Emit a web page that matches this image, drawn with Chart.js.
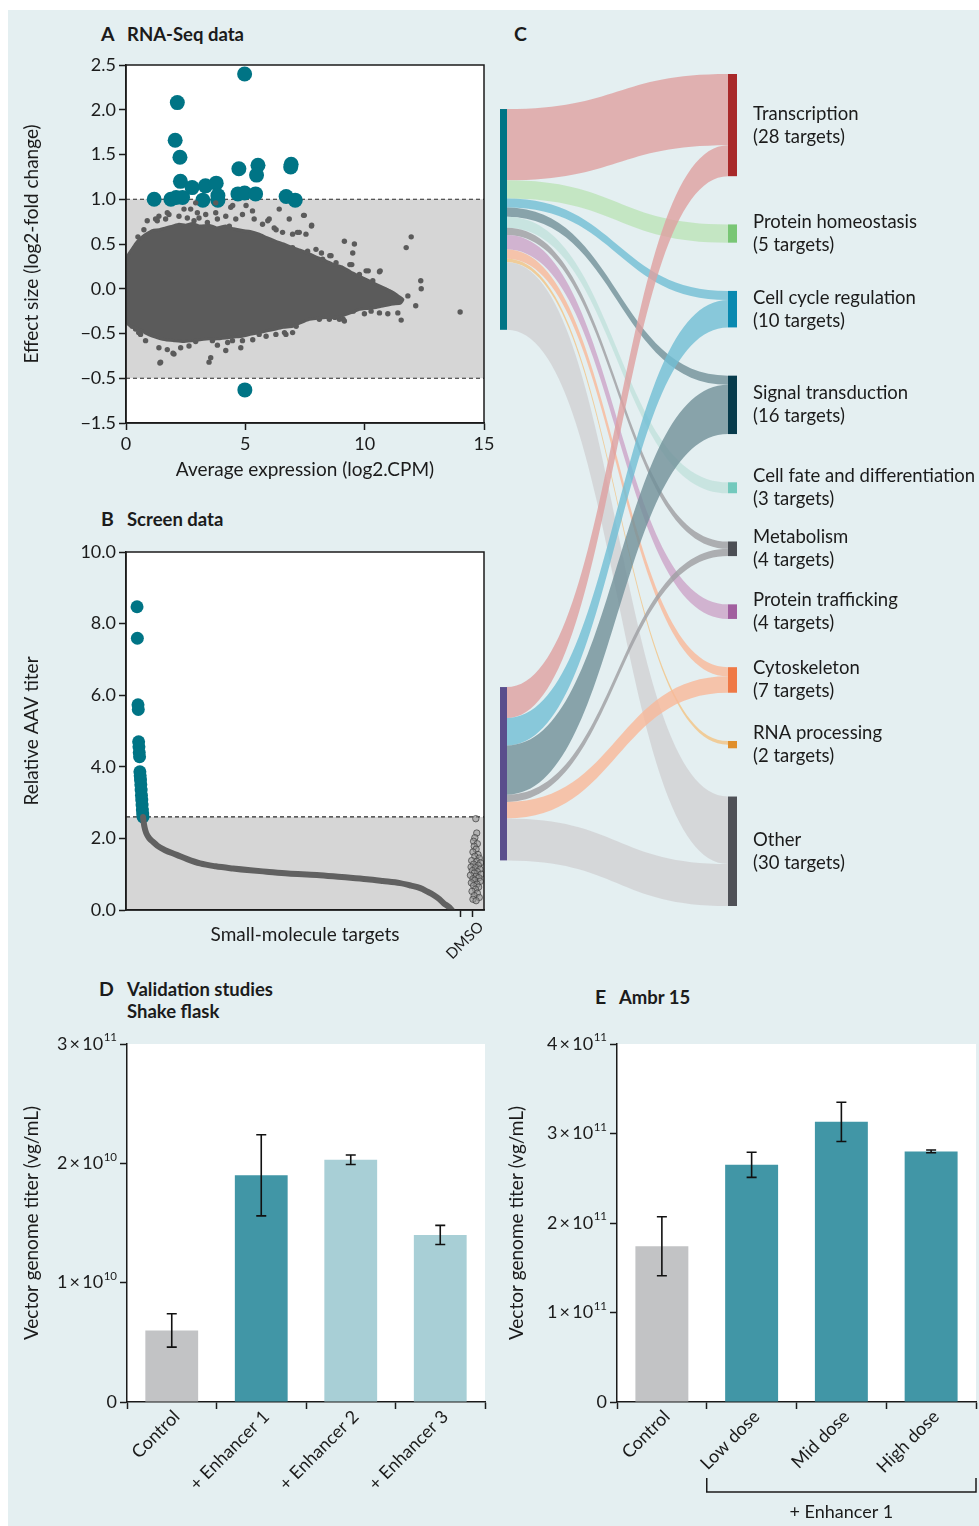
<!DOCTYPE html>
<html lang="en">
<head>
<meta charset="utf-8">
<title>AAV titer enhancers: discovery and validation</title>
<script src="https://cdn.jsdelivr.net/npm/chart.js@4.4.1/dist/chart.umd.min.js"></script>
<style>
  html, body { margin: 0; padding: 0; background: #ffffff; }
  #page { position: relative; width: 979px; height: 1526px; overflow: hidden;
          font-family: Lato, "Open Sans", sans-serif; color: #1b1b1b; }
  #panel-bg { position: absolute; left: 8px; top: 10px; right: 0; bottom: 0; background: #e4eff1; }
  canvas { position: absolute; }
  .head { position: absolute; font-weight: 700; font-size: 18.5px; line-height: 22px; white-space: nowrap; }
  .letter { font-size: 19.5px; }
</style>
</head>
<body>
<div id="page">
  <div id="panel-bg"></div>

  <div class="head letter" style="left:101px;top:23px">A</div>
  <div class="head" style="left:127px;top:23px">RNA-Seq data</div>
  <div class="head letter" style="left:101px;top:508px">B</div>
  <div class="head" style="left:127px;top:508px">Screen data</div>
  <div class="head letter" style="left:514px;top:23px">C</div>
  <div class="head letter" style="left:99px;top:978px">D</div>
  <div class="head" style="left:127px;top:978px">Validation studies<br>Shake flask</div>
  <div class="head letter" style="left:595px;top:986px">E</div>
  <div class="head" style="left:619px;top:986px">Ambr 15</div>

  <canvas id="chartA" width="500" height="450" style="left:0;top:40px"></canvas>
  <canvas id="chartB" width="500" height="460" style="left:0;top:500px"></canvas>
  <canvas id="chartC" width="489" height="870" style="left:490px;top:50px"></canvas>
  <canvas id="chartD" width="500" height="496" style="left:0;top:1030px"></canvas>
  <canvas id="chartE" width="489" height="496" style="left:490px;top:1030px"></canvas>
</div>

<script>
// ---------------- Panel A: RNA-Seq MA plot ----------------
// Outline of the dense cloud of non-significant genes (average expression, log2 fold change)
const maCloudX = [0.01, 0.1, 0.25, 0.4, 0.55, 0.68, 0.9, 1.1, 1.4, 1.66, 1.95, 2.22, 2.5, 2.78, 3.1, 3.48, 3.8, 4.18, 4.5, 4.88,
                  5.2, 5.58, 5.9, 6.28, 6.6, 6.98, 7.3, 7.68, 8.0, 8.38, 8.7, 9.08, 9.4, 9.78, 10.1, 10.48, 10.8, 11.18, 11.4, 11.6,
                  11.5, 11.18, 10.8, 10.48, 10.1, 9.78, 9.4, 9.08, 8.7, 8.38, 8.0, 7.68, 7.3, 6.98, 6.6, 6.28, 5.9, 5.58, 5.2, 4.88,
                  4.5, 4.18, 3.8, 3.48, 3.1, 2.78, 2.4, 2.0, 1.66, 1.35, 1.1, 0.85, 0.68, 0.5, 0.35, 0.2, 0.05, 0.01, 0.01];
const maCloudY = [0.3, 0.38, 0.44, 0.5, 0.55, 0.58, 0.62, 0.65, 0.66, 0.68, 0.70, 0.72, 0.71, 0.73, 0.70, 0.71, 0.68, 0.70, 0.67, 0.65,
                  0.64, 0.61, 0.57, 0.53, 0.50, 0.46, 0.43, 0.39, 0.35, 0.31, 0.27, 0.24, 0.19, 0.14, 0.10, 0.05, 0.01, -0.04, -0.08, -0.12,
                  -0.16, -0.17, -0.19, -0.21, -0.22, -0.23, -0.27, -0.30, -0.32, -0.32, -0.33, -0.34, -0.38, -0.42, -0.43, -0.45, -0.47, -0.49, -0.51, -0.53,
                  -0.54, -0.55, -0.56, -0.56, -0.57, -0.58, -0.59, -0.58, -0.57, -0.55, -0.53, -0.50, -0.47, -0.45, -0.43, -0.42, -0.38, -0.3, 0.3];

// Individual genes outside the dense cloud
const maGeneX = [0.75, 0.89, 1.31, 1.38, 1.66, 1.8, 2.22, 2.43, 2.57, 2.85, 2.99, 3.34, 3.76, 4.18, 4.39, 4.6, 4.88, 5.3, 5.37, 5.72,
                 6.0, 6.21, 6.42, 6.56, 6.84, 6.98, 7.26, 7.47, 7.54, 7.78, 6.98, 7.26, 7.61, 7.96, 8.24, 8.59, 8.8, 9.15, 9.57, 9.5,
                 9.46, 9.78, 10.06, 10.34, 10.62, 10.9, 11.18, 11.46, 11.74, 11.95, 11.81, 12.14, 12.35, 12.37, 11.53, 11.39, 10.97, 10.62, 10.27, 9.99,
                 8.94, 9.15, 8.52, 8.1, 6.98, 6.7, 6.28, 5.58, 4.88, 4.81, 4.46, 4.18, 3.62, 3.55, 3.48, 2.64, 2.29, 2.01, 1.73, 1.38,
                 1.45, 0.82, 0.61, 0.4, 0.26, 14.0, 1.24, 1.73, 2.71, 3.06, 3.41, 3.83, 4.33, 5.94, 6.29, 7.18, 7.44, 7.77, 8.19, 8.54,
                 9.38, 10.15, 10.65, 11.2, 11.07, 9.52, 9.1, 8.75, 7.84, 7.13, 6.64, 5.87, 5.31, 4.26, 3.83, 2.92, 1.97, 1.42, 1.03, 0.53,
                 2.92, 3.76, 4.47, 5.03, 0.5, 0.35, 0.15];
const maGeneY = [0.66, 0.76, 0.76, 0.81, 0.78, 0.83, 0.81, 0.89, 0.79, 0.76, 0.85, 0.83, 0.85, 0.81, 0.91, 0.78, 0.83, 0.87, 0.78, 0.72,
                 0.78, 0.68, 0.89, 0.63, 0.78, 0.61, 0.63, 0.82, 0.61, 0.71, 0.46, 0.39, 0.42, 0.44, 0.33, 0.37, 0.29, 0.53, 0.50, 0.40,
                 0.27, 0.16, 0.20, 0.09, 0.19, -0.02, -0.06, -0.12, 0.46, 0.58, -0.08, -0.19, 0.09, 0.0, -0.35, -0.27, -0.28, -0.27, -0.25, -0.28,
                 -0.34, -0.36, -0.34, -0.34, -0.49, -0.51, -0.51, -0.51, -0.58, -0.66, -0.58, -0.69, -0.58, -0.77, -0.82, -0.64, -0.66, -0.73, -0.68, -0.66,
                 -0.82, -0.58, -0.51, -0.45, -0.42, -0.26, 0.78, 0.85, 0.89, 0.79, 0.74, 0.78, 0.70, 0.76, 0.66, 0.63, 0.82, 0.70, 0.40, 0.37,
                 0.27, 0.20, 0.20, -0.12, -0.04, -0.25, -0.34, -0.32, -0.31, -0.42, -0.49, -0.53, -0.57, -0.60, -0.63, -0.59, -0.72, -0.83, -0.49, -0.49,
                 0.96, 0.96, 0.93, 0.93, 0.58, 0.45, 0.36];

// Differentially expressed hits
const maHitX = [4.97, 2.15, 2.06, 2.26, 2.28, 2.77, 3.33, 3.78, 1.18, 1.88, 2.1, 2.37, 3.22, 3.85, 3.85, 4.73, 5.53, 5.47, 4.69, 4.97, 5.43, 6.92, 6.9, 6.71, 7.09, 4.98];
const maHitY = [2.40, 2.08, 1.66, 1.47, 1.20, 1.13, 1.15, 1.18, 1.0, 1.0, 1.02, 1.02, 0.99, 1.04, 0.99, 1.34, 1.38, 1.27, 1.06, 1.07, 1.06, 1.39, 1.36, 1.03, 0.99, -1.13];

const maYTickValues = [-1.5, -1.0, -0.5, 0, 0.5, 1.0, 1.5, 2.0, 2.5];
const maYTickLabels = ['\u22121.5', '\u22120.5', '\u22120.5', '0.0', '0.5', '1.0', '1.5', '2.0', '2.5'];
const maThresholds = [-1.0, 1.0];

// ---------------- Panel B: screen ----------------
const screenHitRank = [1, 2, 4, 5, 6, 7, 8, 9, 10, 11, 12, 13, 14, 15, 16, 17, 18, 19, 20];
const screenHitTiter = [8.47, 7.59, 5.73, 5.6, 4.7, 4.56, 4.4, 4.28, 3.86, 3.75, 3.63, 3.5, 3.35, 3.2, 3.07, 2.93, 2.79, 2.68, 2.6];
const screenRank = [20, 22, 25, 30, 40, 52, 65, 90, 127, 160, 201, 250, 305, 360, 412, 480, 571, 650, 730, 780, 835, 870, 899, 920, 941, 960, 973, 990, 999];
const screenTiter = [2.6, 2.45, 2.3, 2.15, 2.0, 1.9, 1.8, 1.67, 1.54, 1.42, 1.3, 1.22, 1.16, 1.11, 1.07, 1.02, 0.98, 0.92, 0.86, 0.81, 0.75, 0.68, 0.61, 0.52, 0.42, 0.3, 0.19, 0.08, 0.0];
const dmsoPos = [1075, 1078, 1072, 1068, 1080, 1070, 1076, 1066, 1082, 1072, 1086, 1062, 1078, 1090, 1068, 1083, 1060, 1074, 1088, 1064,
                 1080, 1070, 1092, 1058, 1076, 1085, 1066, 1072, 1089, 1061, 1079, 1068, 1084, 1074, 1063, 1080, 1070, 1086, 1066, 1076];
const dmsoTiter = [2.55, 2.15, 2.02, 1.92, 1.85, 1.78, 1.7, 1.62, 1.55, 1.5, 1.45, 1.38, 1.36, 1.32, 1.28, 1.25, 1.2, 1.18, 1.14, 1.1,
                   1.07, 1.03, 1.0, 0.97, 0.94, 0.9, 0.87, 0.83, 0.8, 0.76, 0.72, 0.68, 0.64, 0.58, 0.52, 0.47, 0.4, 0.35, 0.3, 0.26];
const screenCutoff = 2.6;
const screenXTicks = [1028, 1063];
const screenXTickLabels = ['', 'DMSO'];
const screenYTickLabels = ['0.0', '2.0', '4.0', '6.0', '8.0', '10.0'];

// ---------------- Panel C: hit targets by functional category ----------------
const categories = ['Transcription', 'Protein homeostasis', 'Cell cycle regulation', 'Signal transduction',
                    'Cell fate and differentiation', 'Metabolism', 'Protein trafficking', 'Cytoskeleton',
                    'RNA processing', 'Other'];
const categoryTargets = [28, 5, 10, 16, 3, 4, 4, 7, 2, 30];
const rnaSeqFlows = [19.5, 5, 2.5, 2.5, 3, 2, 4, 2.5, 1, 18.5];
const screenFlows = [8.5, 0, 7.5, 13.5, 0, 2, 0, 4.5, 0, 11.5];

// ---------------- Panel D: shake flask ----------------
const flaskGroups = ['Control', '+ Enhancer 1', '+ Enhancer 2', '+ Enhancer 3'];
const flaskTiter = [0.60, 1.90, 2.03, 1.40];
const flaskErr = [0.14, 0.34, 0.04, 0.08];
const flaskTickBase = ['0', '1', '2', '3'];
const flaskTickExp = ['', '10', '10', '11'];

// ---------------- Panel E: Ambr 15 ----------------
const ambrGroups = ['Control', 'Low dose', 'Mid dose', 'High dose'];
const ambrTiter = [1.74, 2.65, 3.13, 2.80];
const ambrErr = [0.33, 0.14, 0.22, 0.015];
const ambrTickBase = ['0', '1', '2', '3', '4'];
const ambrTickExp = ['', '11', '11', '11', '11'];

// ---------------- styling ----------------
const FONT = 'Lato, "Open Sans", sans-serif';
const TICK_SIZE = 18;
const TITLE_SIZE = 19;
const TEXT = '#1b1b1b';
const AXIS = '#1b1b1b';
const TEAL = '#007485';
const GENE_GREY = '#5b5b5b';
const BAND_GREY = '#d6d6d6';
const CONTROL_GREY = '#c2c3c5';
const BAR_TEAL = '#4196a6';
const BAR_PALE = '#a8cfd6';

const flowColours = ['rgba(222,160,160,0.8)', 'rgba(187,228,184,0.8)', 'rgba(113,190,212,0.8)', 'rgba(113,144,153,0.8)',
                     'rgba(193,225,220,0.8)', 'rgba(157,157,161,0.8)', 'rgba(204,164,200,0.8)', 'rgba(249,184,152,0.8)',
                     'rgba(243,195,131,0.8)', 'rgba(209,209,211,0.8)'];
const nodeColours = ['#a8292a', '#79c675', '#0989b0', '#073b4c', '#73c9bd', '#4c4f55', '#a15f9f', '#ef7946', '#e08f2c', '#4f5157'];

const pairs = (xs, ys) => xs.map((x, i) => ({ x, y: ys[i] }));

function baseOptions(padding) {
  return {
    responsive: false, animation: false, events: [],
    layout: { padding },
    plugins: { legend: { display: false }, tooltip: { enabled: false } }
  };
}

function axis(extra) {
  return Object.assign({
    grid: { display: true, drawOnChartArea: false, drawTicks: true, tickLength: 7, tickColor: AXIS, tickWidth: 1.5 },
    border: { display: true, color: AXIS, width: 1.5 },
    ticks: { color: TEXT, font: { family: FONT, size: TICK_SIZE }, padding: 3 }
  }, extra);
}

function axisTitle(text, padding) {
  return { display: true, text, color: TEXT, font: { family: FONT, size: TITLE_SIZE }, padding };
}

// white plotting area, grey "not significant" band and dashed cut-offs, optional frame
function plotBackdrop(bandLow, bandHigh, dashed, framed) {
  return {
    id: 'backdrop',
    beforeDraw(chart) {
      const { ctx, chartArea: a, scales: { y } } = chart;
      ctx.save();
      ctx.fillStyle = '#ffffff';
      ctx.fillRect(a.left, a.top, a.width, a.height);
      if (bandLow !== null) {
        const top = y.getPixelForValue(bandHigh), bottom = y.getPixelForValue(bandLow);
        ctx.fillStyle = BAND_GREY;
        ctx.fillRect(a.left, top, a.width, bottom - top);
      }
      ctx.setLineDash([4, 3]);
      ctx.strokeStyle = '#2a2a2a';
      ctx.lineWidth = 1.2;
      for (const v of dashed) {
        const yy = y.getPixelForValue(v);
        ctx.beginPath(); ctx.moveTo(a.left, yy); ctx.lineTo(a.right, yy); ctx.stroke();
      }
      ctx.restore();
    },
    afterDatasetsDraw(chart) {
      if (!framed) return;
      const { ctx, chartArea: a } = chart;
      ctx.save();
      ctx.strokeStyle = AXIS; ctx.lineWidth = 1.5;
      ctx.strokeRect(a.left, a.top, a.width, a.height);
      ctx.restore();
    }
  };
}

function errorBars(errors) {
  return {
    id: 'errorBars',
    afterDatasetsDraw(chart) {
      const { ctx, scales: { y } } = chart;
      const meta = chart.getDatasetMeta(0);
      const values = chart.data.datasets[0].data;
      ctx.save();
      ctx.strokeStyle = '#111111'; ctx.lineWidth = 1.6;
      meta.data.forEach((bar, i) => {
        const hi = y.getPixelForValue(values[i] + errors[i]);
        const lo = y.getPixelForValue(values[i] - errors[i]);
        ctx.beginPath();
        ctx.moveTo(bar.x, hi); ctx.lineTo(bar.x, lo);
        ctx.moveTo(bar.x - 5, hi); ctx.lineTo(bar.x + 5, hi);
        ctx.moveTo(bar.x - 5, lo); ctx.lineTo(bar.x + 5, lo);
        ctx.stroke();
      });
      ctx.restore();
    }
  };
}

// "n × 10^k" tick labels with a raised exponent
function powerTicks(bases, exps) {
  return {
    id: 'powerTicks',
    afterDraw(chart) {
      const { ctx, scales: { y } } = chart;
      const right = y.right - 10;
      ctx.save();
      ctx.fillStyle = TEXT;
      ctx.textAlign = 'right';
      ctx.textBaseline = 'middle';
      y.ticks.forEach((t, i) => {
        const yy = y.getPixelForValue(t.value);
        let x = right;
        if (exps[i]) {
          ctx.font = `11.5px ${FONT}`;
          ctx.fillText(exps[i], x, yy - 6.5);
          x -= ctx.measureText(exps[i]).width + 0.5;
          ctx.font = `${TICK_SIZE}px ${FONT}`;
          ctx.fillText(bases[i] + '\u2009\u00d7\u200910', x, yy);
        } else {
          ctx.font = `${TICK_SIZE}px ${FONT}`;
          ctx.fillText(bases[i], x, yy);
        }
      });
      ctx.restore();
    }
  };
}

function draw() {
  // ---------- A ----------
  new Chart(document.getElementById('chartA'), {
    type: 'scatter',
    data: {
      datasets: [
        { type: 'line', data: pairs(maCloudX, maCloudY), fill: 'shape', backgroundColor: GENE_GREY,
          borderColor: GENE_GREY, borderWidth: 3, pointRadius: 0, tension: 0.15 },
        { data: pairs(maGeneX, maGeneY), backgroundColor: GENE_GREY, borderWidth: 0, pointRadius: 2.7 },
        { data: pairs(maHitX, maHitY), backgroundColor: TEAL, borderWidth: 0, pointRadius: 7.5 }
      ]
    },
    options: Object.assign(baseOptions({ top: 25, right: 16, left: 0, bottom: 0 }), {
      scales: {
        x: axis({ type: 'linear', min: 0, max: 15, afterFit: s => { s.height = 67; },
          ticks: { color: TEXT, font: { family: FONT, size: TICK_SIZE }, padding: 3, stepSize: 5, maxRotation: 0 },
          title: axisTitle('Average expression (log2.CPM)', { top: 0, bottom: 8.6 }) }),
        y: axis({ type: 'linear', min: -1.5, max: 2.5, afterFit: s => { s.width = 126; },
          afterBuildTicks: s => { s.ticks = maYTickValues.map(value => ({ value })); },
          ticks: { color: TEXT, font: { family: FONT, size: TICK_SIZE }, padding: 3,
                   callback: (v, i) => maYTickLabels[i] },
          title: axisTitle('Effect size (log2-fold change)', { top: 20.6, bottom: 0 }) })
      }
    }),
    plugins: [plotBackdrop(maThresholds[0], maThresholds[1], maThresholds, true)]
  });

  // ---------- B ----------
  new Chart(document.getElementById('chartB'), {
    type: 'scatter',
    data: {
      datasets: [
        { type: 'line', data: pairs(screenRank, screenTiter), borderColor: '#616161', borderWidth: 6,
          borderCapStyle: 'round', pointRadius: 0, fill: false, cubicInterpolationMode: 'monotone' },
        { data: pairs(dmsoPos, dmsoTiter), backgroundColor: 'rgba(150,150,150,0.55)',
          borderColor: 'rgba(60,60,60,0.7)', borderWidth: 1, pointRadius: 3.2 },
        { data: pairs(screenHitRank, screenHitTiter), backgroundColor: TEAL, borderWidth: 0, pointRadius: 6.5 }
      ]
    },
    options: Object.assign(baseOptions({ top: 52, right: 16, left: 0, bottom: 0 }), {
      scales: {
        x: axis({ type: 'linear', min: -34, max: 1101, afterFit: s => { s.height = 50; },
          afterBuildTicks: s => { s.ticks = screenXTicks.map(value => ({ value })); },
          ticks: { color: TEXT, font: { family: FONT, size: 15 }, padding: 1, autoSkip: false, labelOffset: 9,
                   minRotation: 45, maxRotation: 45, callback: (v, i) => screenXTickLabels[i] },
          title: axisTitle('Small-molecule targets', { top: 0, bottom: 13.6 }) }),
        y: axis({ type: 'linear', min: 0, max: 10, afterFit: s => { s.width = 126; },
          ticks: { color: TEXT, font: { family: FONT, size: TICK_SIZE }, padding: 3, stepSize: 2,
                   callback: (v, i) => screenYTickLabels[i] },
          title: axisTitle('Relative AAV titer', { top: 20.6, bottom: 0 }) })
      }
    }),
    plugins: [plotBackdrop(0, screenCutoff, [screenCutoff], true)]
  });

  // ---------- C ----------
  const sankey = {
    id: 'sankey',
    afterDatasetsDraw(chart) {
      const { ctx, scales: { x, y } } = chart;
      const total = categoryTargets.reduce((a, b) => a + b, 0);
      const gap = (y.max - total) / (categories.length - 1);
      const tops = [];
      let acc = 0;
      categoryTargets.forEach(n => { tops.push(acc); acc += n + gap; });

      const sources = [
        { flows: rnaSeqFlows, top: 9.6, colour: TEAL },
        { flows: screenFlows, top: 168, colour: '#5a4e8c' }
      ];
      const xl = x.getPixelForValue(0), xr = x.getPixelForValue(1);
      const x0 = xl + 7, x1 = xr - 9, xm = (x0 + x1) / 2;
      const used = categories.map(() => 0);
      const Y = v => y.getPixelForValue(v);

      ctx.save();
      for (const src of sources) {
        let off = src.top;
        src.flows.forEach((v, i) => {
          if (!v) return;
          const a0 = off, a1 = off + v;
          const b0 = tops[i] + used[i], b1 = b0 + v;
          used[i] += v; off += v;
          ctx.fillStyle = flowColours[i];
          ctx.beginPath();
          ctx.moveTo(x0, Y(a0));
          ctx.bezierCurveTo(xm, Y(a0), xm, Y(b0), x1, Y(b0));
          ctx.lineTo(x1, Y(b1));
          ctx.bezierCurveTo(xm, Y(b1), xm, Y(a1), x0, Y(a1));
          ctx.closePath();
          ctx.fill();
        });
      }
      // source nodes
      for (const src of sources) {
        const sum = src.flows.reduce((a, b) => a + b, 0);
        ctx.fillStyle = src.colour;
        ctx.fillRect(xl, Y(src.top), 7, Y(src.top + sum) - Y(src.top));
      }
      // category nodes and labels
      ctx.font = `18.5px ${FONT}`;
      ctx.textBaseline = 'middle';
      ctx.textAlign = 'left';
      categories.forEach((name, i) => {
        ctx.fillStyle = nodeColours[i];
        ctx.fillRect(xr - 9, Y(tops[i]), 9, Y(tops[i] + categoryTargets[i]) - Y(tops[i]));
        const c = Y(tops[i] + categoryTargets[i] / 2);
        ctx.fillStyle = TEXT;
        ctx.fillText(name, xr + 16, c - 11.5);
        ctx.fillText(`(${categoryTargets[i]} targets)`, xr + 16, c + 11.5);
      });
      ctx.restore();
    }
  };
  new Chart(document.getElementById('chartC'), {
    type: 'scatter',
    data: { datasets: [{ data: [], pointRadius: 0 }] },
    options: Object.assign(baseOptions({ left: 10, right: 242, top: 24, bottom: 14 }), {
      scales: {
        x: { type: 'linear', display: false, min: 0, max: 1 },
        y: { type: 'linear', display: false, min: 0, max: 228, reverse: true }
      }
    }),
    plugins: [sankey]
  });

  // ---------- D ----------
  const whiteArea = plotBackdrop(null, null, [], false);
  function barChart(id, labels, values, errors, colours, yMax, bases, exps, yPadTop, padRight, extraPlugins) {
    return new Chart(document.getElementById(id), {
      type: 'bar',
      data: { labels, datasets: [{ data: values, backgroundColor: colours, borderWidth: 0,
                                   barPercentage: 0.59, categoryPercentage: 1 }] },
      options: Object.assign(baseOptions({ top: 14, right: padRight, left: 0, bottom: 0 }), {
        scales: {
          x: axis({ afterFit: s => { s.height = 124; },
            grid: { display: true, offset: true, drawOnChartArea: false, drawTicks: true, tickLength: 7,
                    tickColor: AXIS, tickWidth: 1.5 },
            ticks: { color: TEXT, font: { family: FONT, size: TICK_SIZE }, padding: -3, labelOffset: 5,
                     autoSkip: false, minRotation: 45, maxRotation: 45 } }),
          y: axis({ min: 0, max: yMax, afterFit: s => { s.width = 127; },
            ticks: { display: false, stepSize: 1 },
            title: axisTitle('Vector genome titer (vg/mL)', { top: yPadTop, bottom: 0 }) })
        }
      }),
      plugins: [whiteArea, errorBars(errors), powerTicks(bases, exps)].concat(extraPlugins)
    });
  }
  barChart('chartD', flaskGroups, flaskTiter, flaskErr, [CONTROL_GREY, BAR_TEAL, BAR_PALE, BAR_PALE],
           3, flaskTickBase, flaskTickExp, 20.6, 15, []);

  // ---------- E ----------
  const enhancerBracket = {
    id: 'bracket',
    afterDraw(chart) {
      const { ctx, scales: { x } } = chart;
      const left = x.getPixelForValue(0.5), right = x.getPixelForValue(3.5);
      const y0 = 448, y1 = 462;
      ctx.save();
      ctx.strokeStyle = AXIS; ctx.lineWidth = 1.5;
      ctx.beginPath();
      ctx.moveTo(left, y0); ctx.lineTo(left, y1); ctx.lineTo(right, y1); ctx.lineTo(right, y0);
      ctx.stroke();
      ctx.fillStyle = TEXT;
      ctx.font = `${TICK_SIZE}px ${FONT}`;
      ctx.textAlign = 'center'; ctx.textBaseline = 'middle';
      ctx.fillText('+ Enhancer 1', (left + right) / 2, 482);
      ctx.restore();
    }
  };
  barChart('chartE', ambrGroups, ambrTiter, ambrErr, [CONTROL_GREY, BAR_TEAL, BAR_TEAL, BAR_TEAL],
           4, ambrTickBase, ambrTickExp, 15.6, 3, [enhancerBracket]);
}

Promise.all([
  document.fonts.load(`17px ${FONT}`),
  document.fonts.load(`bold 18px ${FONT}`)
]).catch(() => {}).then(draw);
</script>
</body>
</html>
